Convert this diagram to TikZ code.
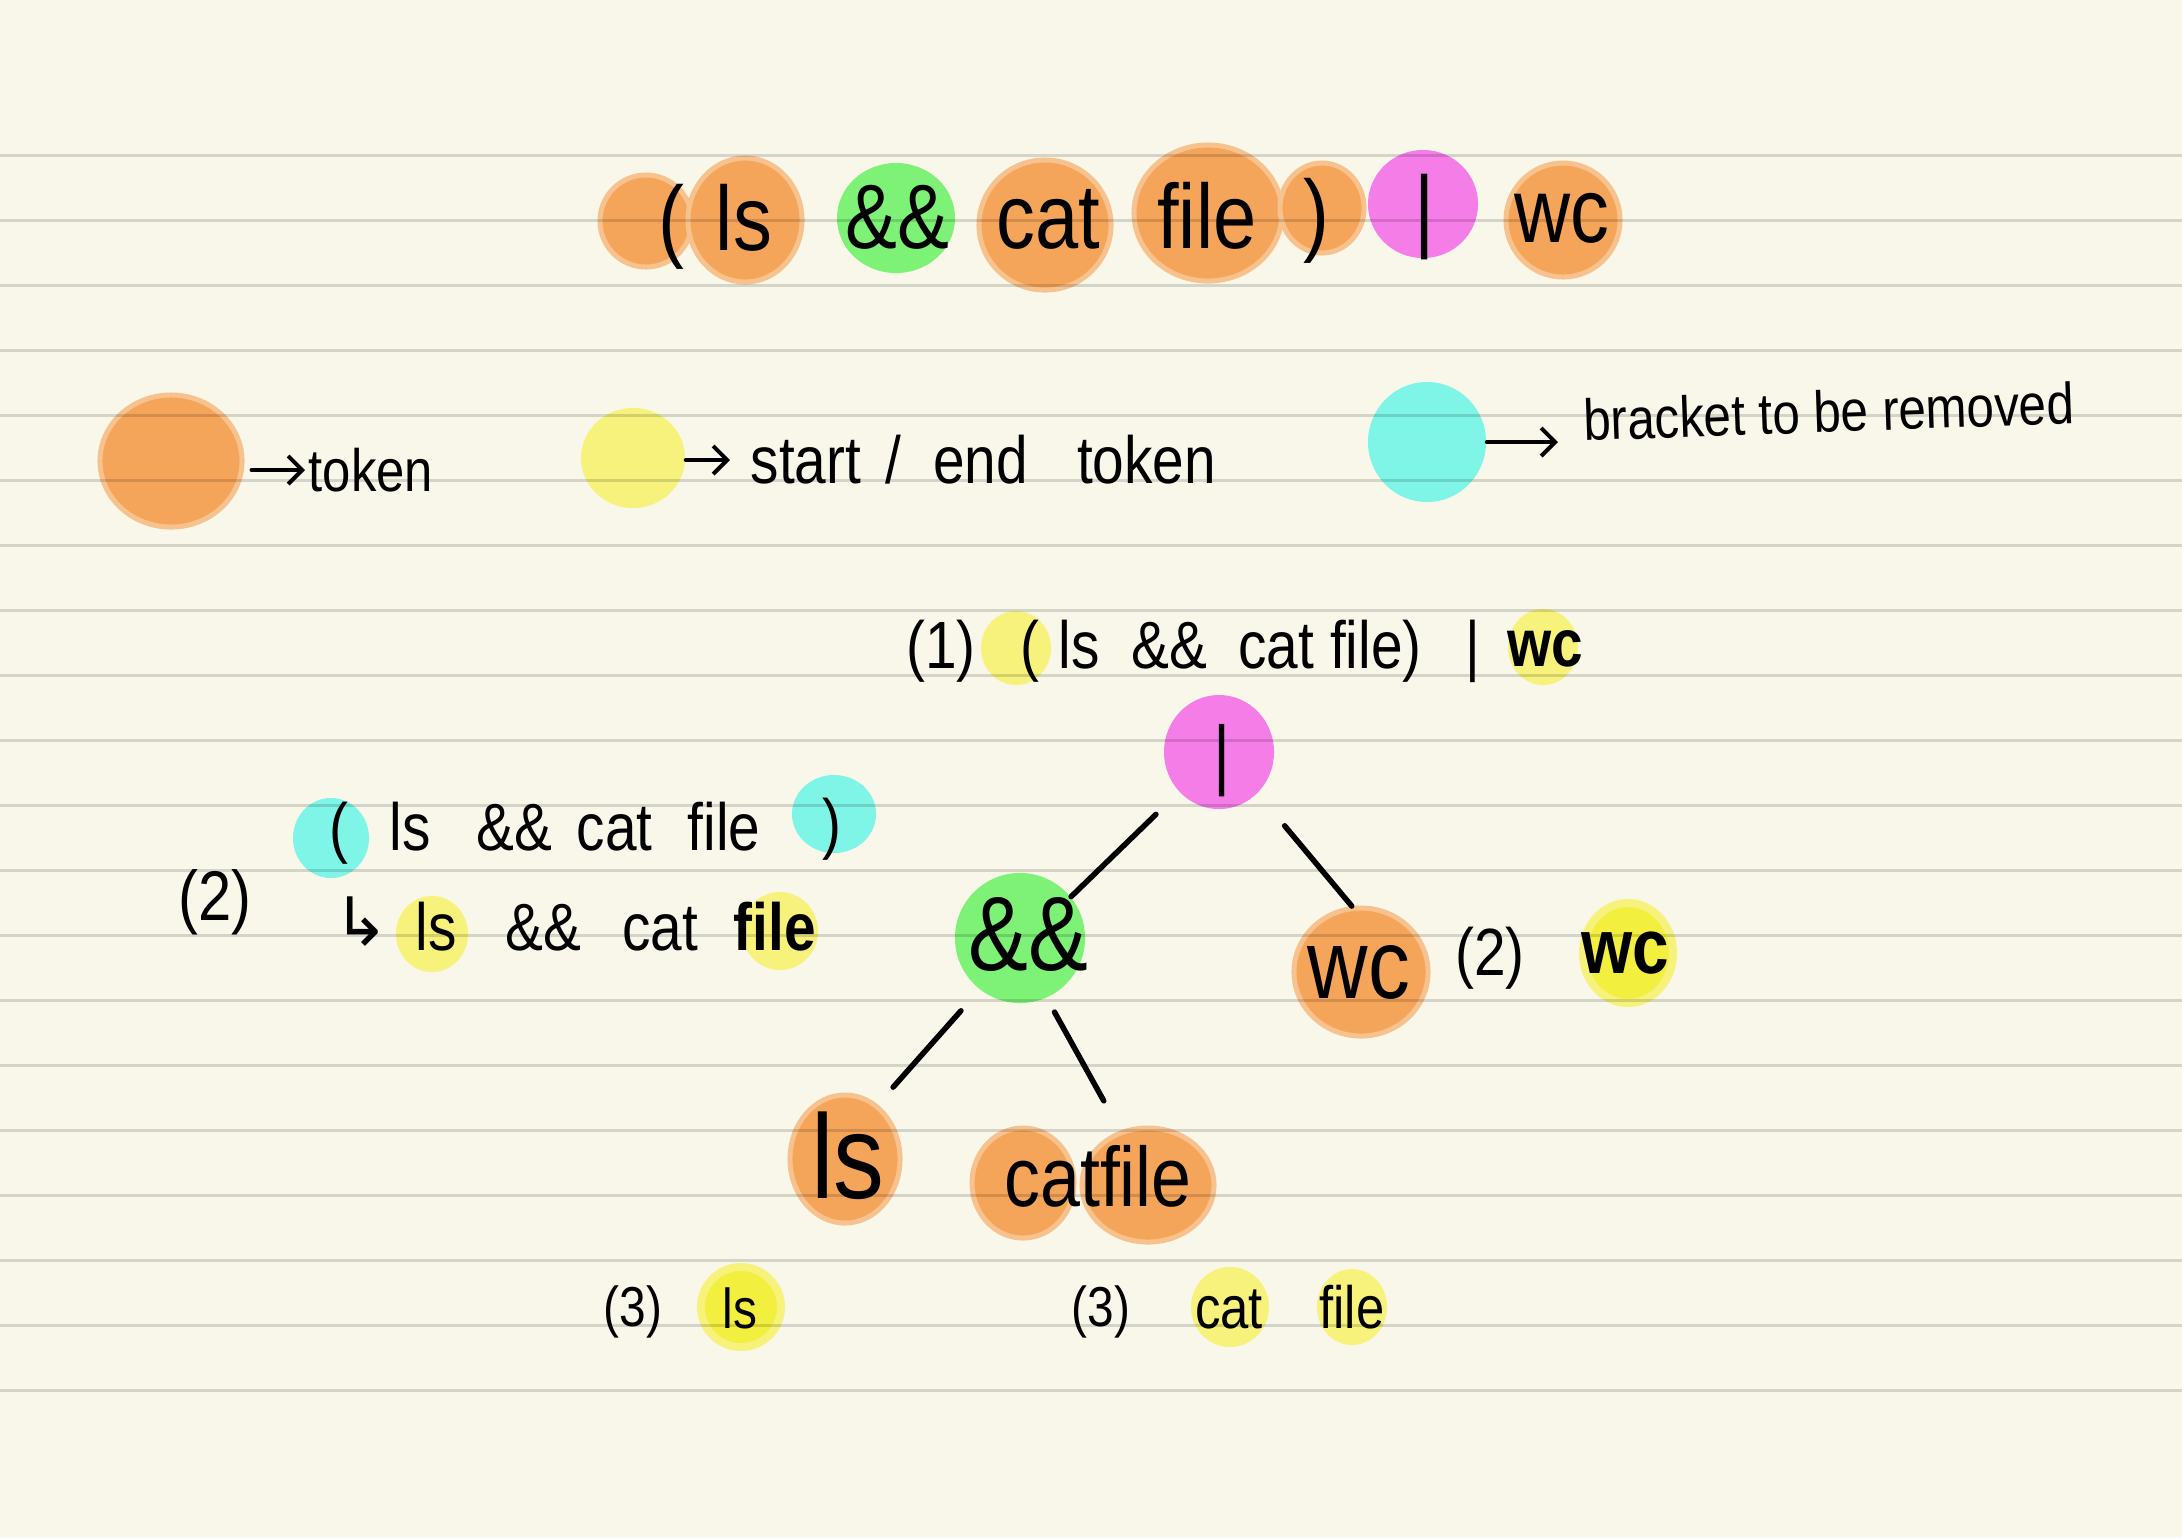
\documentclass[tikz,border=0pt]{standalone}
\usepackage{fontspec}
\setmainfont{Liberation Sans}[FakeStretch=0.85]
\newfontfamily\arrfont{DejaVu Sans}
\usetikzlibrary{arrows.meta,shapes.geometric}
\definecolor{paper}{HTML}{F9F7E9}
\definecolor{tokorange}{HTML}{F5A55A}
\definecolor{tokhalo}{HTML}{F7C28E}
\definecolor{opgreen}{HTML}{7EF276}
\definecolor{pipepink}{HTML}{F57DE8}
\definecolor{seyellow}{HTML}{F6F27C}
\definecolor{sebright}{HTML}{F3EF3E}
\definecolor{brcyan}{HTML}{7EF5E6}
\newcommand\fs[1]{\fontsize{#1}{#1}\selectfont}

\begin{document}
\begin{tikzpicture}[x=0.01cm,y=-0.01cm,line cap=round,line join=round,
  blob/.style={ellipse,inner sep=0pt},
  tok/.style={blob,fill=tokorange,draw=tokhalo,line width=0.05cm},
  opnode/.style={blob,fill=opgreen},
  pipenode/.style={blob,fill=pipepink},
  se/.style={blob,fill=seyellow},
  sebr/.style={blob,fill=sebright,draw=seyellow,line width=0.08cm},
  br/.style={blob,fill=brcyan},
  hand/.style={inner sep=0pt},
  branch/.style={line width=0.055cm},
  legarr/.style={line width=0.04cm,-{Straight Barb[length=4pt,width=8pt]}}]
 % paper
 \fill[paper] (0,0) rectangle (2182,1538);
 \useasboundingbox (0,0) rectangle (2182,1538);
 % top row
 \foreach \n/\s/\x/\y/\w/\h in {tOpen/tok/646/221/.92/.92, tLs/tok/745/220/1.14/1.24,
   tAnd/opnode/896/218/1.18/1.10, tCat/tok/1045/225/1.32/1.30, tFile/tok/1208/213/1.48/1.36,
   tClose/tok/1322/208/.84/.90, tPipe/pipenode/1423/204/1.10/1.08, tWc/tok/1563/220/1.14/1.14}
   \node[\s,minimum width=\w cm,minimum height=\h cm] (\n) at (\x,\y) {};
 % legend
 \node[tok,minimum width=1.42cm,minimum height=1.32cm] (legTok) at (171,461) {};
 \node[se,minimum width=1.04cm,minimum height=1.00cm] (legSe) at (633,458) {};
 \node[br,minimum width=1.18cm,minimum height=1.20cm] (legBr) at (1427,442) {};
 % step (1)
 \node[se,minimum width=.70cm,minimum height=.74cm] (oneY1) at (1016,648) {};
 \node[se,minimum width=.70cm,minimum height=.76cm] (oneY2) at (1543,647) {};
 % tree
 \node[pipenode,minimum width=1.10cm,minimum height=1.14cm] (pipe) at (1219,752) {};
 \node[opnode,minimum width=1.30cm,minimum height=1.30cm] (andop) at (1020,938) {};
 \node[tok,minimum width=1.34cm,minimum height=1.28cm] (wcn) at (1361,972) {};
 \node[tok,minimum width=1.10cm,minimum height=1.28cm] (lsn) at (845,1159) {};
 \node[tok,minimum width=1.02cm,minimum height=1.10cm] (catb) at (1023,1183) {};
 \node[tok,minimum width=1.32cm,minimum height=1.14cm] (fileb) at (1148,1185) {};
 % step (2)
 \node[br,minimum width=.76cm,minimum height=.80cm] (twoC1) at (331,838) {};
 \node[br,minimum width=.84cm,minimum height=.78cm] (twoC2) at (834,814) {};
 \node[se,minimum width=.72cm,minimum height=.76cm] (twoY1) at (432,934) {};
 \node[se,minimum width=.76cm,minimum height=.78cm] (twoY2) at (780,931) {};
 \node[sebr,minimum width=.90cm,minimum height=1.00cm] (twoY3) at (1628,953) {};
 % step (3)
 \node[sebr,minimum width=.80cm,minimum height=.80cm] (thrY1) at (741,1307) {};
 \node[se,minimum width=.78cm,minimum height=.80cm] (thrY2) at (1230,1307) {};
 \node[se,minimum width=.70cm,minimum height=.76cm] (thrY3) at (1352,1307) {};
 % ruled lines
 \foreach \k in {0,...,19}
   \draw[black,opacity=.14,line width=0.03cm] (0,{155+65*\k}) -- (2182,{155+65*\k});

 % texts of the top row
 \begin{scope}[every node/.style={hand,font=\fs{26},anchor=base}]
  \node (wOpen) at (671,250) {(};
  \node (wLs) at (744,250) {ls};
  \node (wAnd) at (897,248) {\&\&};
  \node (wCat) at (1048,248) {cat};
  \node (wFile) at (1207,248) {file};
  \node (wClose) at (1316,244) {)};
  \node (wPipe) at (1425,240) {|};
  \node (wWc) at (1562,242) {wc};
 \end{scope}
 % legend texts
 \node[hand,font=\fs{17},anchor=west] (tokTxt) at (308,470) {token};
 \node[hand,font=\fs{19},anchor=west] (seTxt) at (750,460)
   {start\hspace{7pt}/\hspace{9pt}end\hspace{14pt}token};
 \node[hand,font=\fs{16.5},anchor=west,rotate=2] (brTxt) at (1583,420) {bracket to be removed};
 \draw[legarr,shorten <=0.07cm,shorten >=0.03cm] (legTok.east |- tokTxt.west) -- (tokTxt.west);
 \draw[legarr,shorten >=0.2cm] (legSe.east |- seTxt.west) -- (seTxt.west);
 \draw[legarr,shorten >=0.25cm] (legBr.east) -- (legBr.east -| brTxt.west);

 % step (1) texts
 \begin{scope}[every node/.style={hand,font=\fs{19},anchor=base}]
  \node (oneLab) at (941,668) {(1)};
  \node (oneOpen) at (1030,668) {(};
  \node[anchor=base west] (oneBody) at (1058,668) {ls~~\&\&~~cat file)};
  \node (onePipe) at (1473,668) {|};
  \node[font=\fs{19}\bfseries] (oneWc) at (1545,666) {wc};
 \end{scope}

 % tree texts
 \node[hand,font=\fs{22}] (pipeTxt) at (1222,761) {|};
 \node[hand,font=\fs{30}] (andTxt) at (1028,934) {\&\&};
 \node[hand,font=\fs{28}] (wcTxt) at (1359,972) {wc};
 \node[hand,font=\fs{34}] (lsTxt) at (848,1156) {ls};
 \node[hand,font=\fs{24},anchor=base] (catfileTxt) at (1098,1206) {catfile};
 \draw[branch,shorten <=0.32cm] (pipe.225) -- (andop.39);
 \draw[branch,shorten <=0.42cm] (pipe.-47) -- (wcn.98);
 \draw[branch,shorten <=0.28cm,shorten >=0.23cm] (andop.232) -- (lsn.59);
 \draw[branch,shorten <=0.16cm,shorten >=0.34cm] (andop.-66) -- (fileb.117);

 % step (2) texts
 \begin{scope}[every node/.style={hand,font=\fs{19},anchor=base}]
  \node[font=\fs{20},anchor=center] (twoLab) at (215,902) {(2)};
  \node (twoOpen) at (339,850) {(};
  \node[anchor=base west] (twoBody) at (389,850)
    {ls\hspace{13pt}\&\&\hspace{7pt}cat\hspace{10pt}file};
  \node (twoClose) at (832,846) {)};
  \node[font=\fs{19}\arrfont,anchor=center] (twoHook) at (361,922) {↳};
  \node (twoLs) at (436,950) {ls};
  \node (twoAnd) at (543,950) {\&\&};
  \node (twoCat) at (660,950) {cat};
  \node[font=\fs{19}\bfseries] (twoFile) at (775,950) {file};
  \node (twoLabR) at (1490,975) {(2)};
  \node[font=\fs{22}\bfseries,anchor=center] (twoWc) at (1625,953) {wc};
 \end{scope}

 % step (3) texts
 \begin{scope}[every node/.style={hand,font=\fs{16},anchor=base}]
  \node (thrLab1) at (633,1326) {(3)};
  \node (thrLs) at (740,1328) {ls};
  \node (thrLab2) at (1101,1326) {(3)};
  \node[font=\fs{17}] (thrCat) at (1229,1328) {cat};
  \node[font=\fs{17}] (thrFile) at (1352,1328) {file};
 \end{scope}
\end{tikzpicture}
\end{document}
